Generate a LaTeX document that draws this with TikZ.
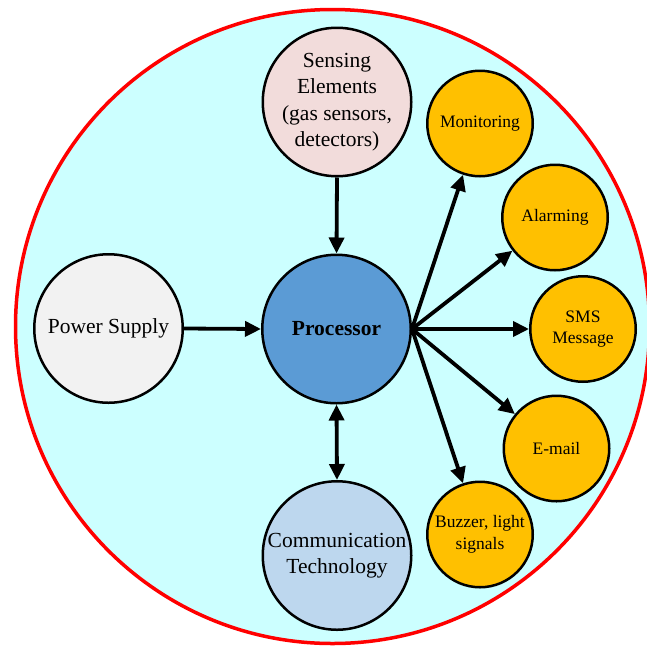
\documentclass[tikz,border=0pt]{standalone}
\usepackage{fontspec}
\setmainfont{Liberation Serif}
\usetikzlibrary{arrows.meta}
\definecolor{bgcyan}{RGB}{204,255,255}
\definecolor{sensfill}{RGB}{242,220,219}
\definecolor{powfill}{RGB}{242,242,242}
\definecolor{procfill}{RGB}{91,155,213}
\definecolor{commfill}{RGB}{189,215,238}
\definecolor{outfill}{RGB}{255,192,0}
\tikzset{
  bigcirc/.style={circle, draw=black, line width=2.5pt, minimum size=148.5pt, inner sep=0pt},
  smallcirc/.style={circle, draw=black, line width=2.5pt, minimum size=105.5pt, inner sep=0pt, fill=outfill},
  bigtext/.style={align=center, inner sep=0pt, font=\fontsize{21.5}{26.5}\selectfont},
  smalltext/.style={align=center, inner sep=0pt, font=\fontsize{17.5}{21.5}\selectfont},
  conn/.style={line width=3.8pt, -{Triangle[length=16pt,width=15pt]}},
  dconn/.style={line width=3.8pt, {Triangle[length=16pt,width=15pt]}-{Triangle[length=16pt,width=15pt]}}
}
\begin{document}
\begin{tikzpicture}[x=1pt,y=-1pt]
\useasboundingbox (0,0) rectangle (647,646);
\fill[white] (0,0) rectangle (647,646);
\draw[red, line width=3.5pt, fill=bgcyan] (332.5,326.5) circle[radius=317];
% main nodes
\node[bigcirc, fill=sensfill] (S) at (337,102) {};
\node[bigtext] (St) at (S) {Sensing\\Elements\\(gas sensors,\\detectors)};
\node[bigcirc, fill=powfill] (W) at (108.5,328.5) {};
\node[bigtext] (Wt) at (W) {Power Supply};
\node[bigcirc, fill=procfill] (P) at (336.5,329) {};
\node[bigtext, font=\fontsize{21.5}{26.5}\selectfont\bfseries] (Pt) at (P) {Processor};
\node[bigcirc, fill=commfill] (C) at (337,555.5) {};
\node[bigtext] (Ct) at (C) {Communication\\Technology};
% output nodes
\node[smallcirc] (M) at (480,123.5) {};
\node[smalltext] (Mt) at (M) {Monitoring};
\node[smallcirc] (A) at (555,217.5) {};
\node[smalltext] (At) at (A) {Alarming};
\node[smallcirc] (SM) at (583,329) {};
\node[smalltext] (SMt) at (SM) {SMS\\Message};
\node[smallcirc] (E) at (556.5,448.5) {};
\node[smalltext] (Et) at (E) {E-mail};
\node[smallcirc] (B) at (480,534.5) {};
\node[smalltext] (Bt) at (B) {Buzzer, light\\signals};
% connectors
\draw[conn] (S.south) -- (P.north);
\draw[conn] (W.east) -- (P.west);
\draw[dconn] (P.south) -- (C.north);
\draw[conn] (P.east) -- (M);
\draw[conn] (P.east) -- (A);
\draw[conn] (P.east) -- (SM);
\draw[conn] (P.east) -- (E);
\draw[conn] (P.east) -- (B);
\end{tikzpicture}
\end{document}
